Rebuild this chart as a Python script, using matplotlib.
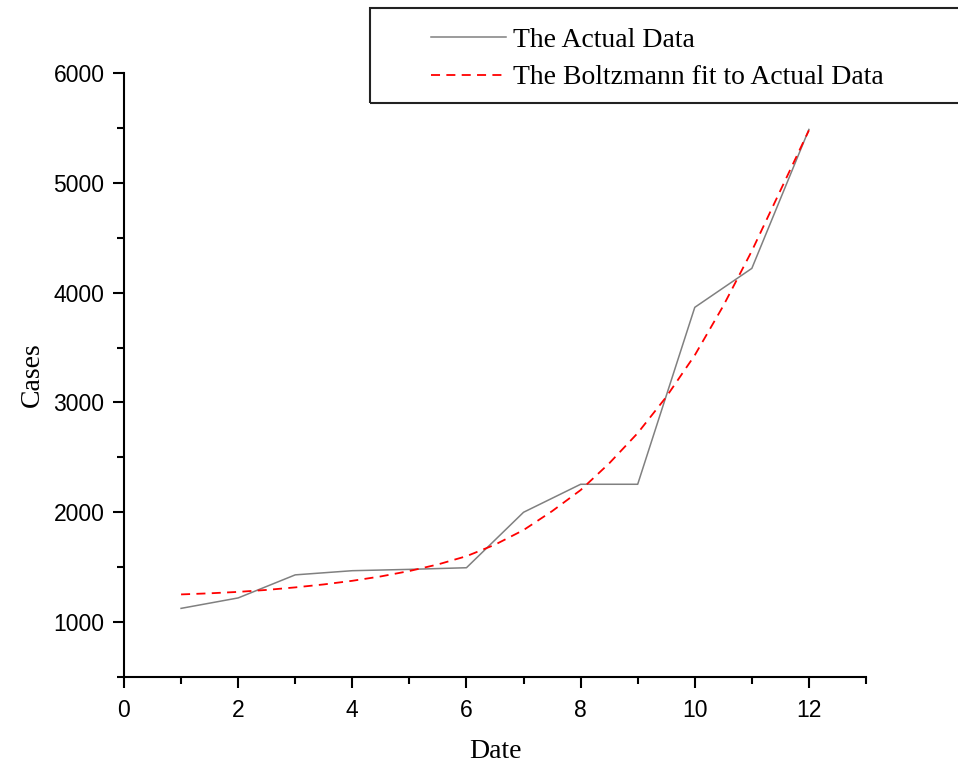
import matplotlib
matplotlib.use("Agg")
import matplotlib.pyplot as plt
from matplotlib.patches import Rectangle
from matplotlib.ticker import MultipleLocator

# actual data
dates = [1, 2, 3, 4, 5, 6, 7, 8, 9, 10, 11, 12]
cases = [1125, 1220, 1430, 1468, 1480, 1495, 2000, 2255, 2255, 3866, 4221, 5486]

# Boltzmann fit, read at half-day steps
fit_dates = [1, 1.5, 2, 2.5, 3, 3.5, 4, 4.5, 5, 5.5, 6, 6.5,
             7, 7.5, 8, 8.5, 9, 9.5, 10, 10.5, 11, 11.5, 12]
fit_cases = [1252, 1262, 1275, 1293, 1316, 1343, 1376, 1416, 1465, 1525, 1600, 1705,
             1838, 2010, 2202, 2445, 2721, 3050, 3430, 3880, 4380, 4930, 5478]

serif = "Liberation Serif"
sans = "Liberation Sans"

fig = plt.figure(figsize=(9.58, 7.67), dpi=100)
ax = fig.add_axes([124 / 958, 90 / 767, 742 / 958, 604 / 767])

l1, = ax.plot(dates, cases, color="#808080", lw=1.1, label="The Actual Data")
l2, = ax.plot(fit_dates, fit_cases, color="#ff0000", lw=1.3, ls=(0, (5, 3.5)),
              label="The Boltzmann fit to Actual Data")

ax.set_xlim(0, 13)
ax.set_ylim(500, 6000)
ax.xaxis.set_major_locator(MultipleLocator(2))
ax.xaxis.set_minor_locator(MultipleLocator(1))
ax.yaxis.set_major_locator(MultipleLocator(1000))
ax.yaxis.set_minor_locator(MultipleLocator(500))
ax.set_yticks([1000, 2000, 3000, 4000, 5000, 6000])

for s in ["top", "right"]:
    ax.spines[s].set_visible(False)
for s in ["left", "bottom"]:
    ax.spines[s].set_linewidth(1.5)

ax.tick_params(which="major", direction="out", length=8, width=1.5, labelsize=16.5, pad=6)
ax.tick_params(axis="x", which="major", pad=8)
ax.tick_params(which="minor", direction="out", length=5, width=1.5)
for lab in ax.get_xticklabels() + ax.get_yticklabels():
    lab.set_fontfamily(sans)

ax.set_xlabel("Date", fontfamily=serif, fontsize=20, labelpad=12)
ax.set_ylabel("Cases", fontfamily=serif, fontsize=20, labelpad=6)

# legend box sticks out past the right edge of the figure
fig.patches.append(Rectangle((370 / 958, 1 - 103 / 767), 0.7, 95 / 767,
                             transform=fig.transFigure, fill=False,
                             edgecolor="#222222", lw=1.5))
fig.legend(handles=[l1, l2], loc="upper left", bbox_to_anchor=(420 / 958, 1 - 16 / 767),
           frameon=False, prop={"family": serif, "size": 20}, handlelength=2.7,
           handletextpad=0.25, labelspacing=0.45, borderaxespad=0)

fig.savefig("out.png", dpi=100)
